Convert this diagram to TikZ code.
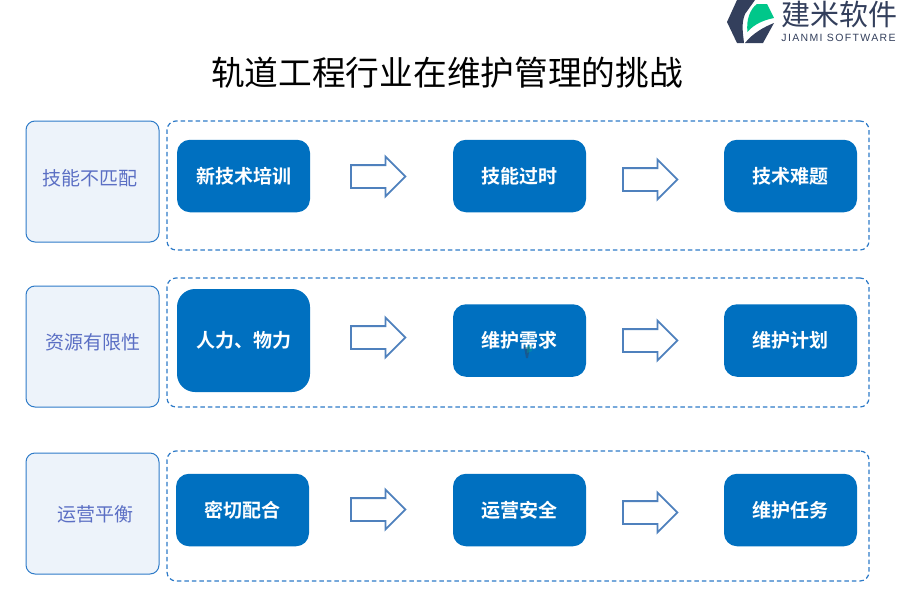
\documentclass[tikz,border=0pt]{standalone}
\usepackage{fontspec}
\usetikzlibrary{shapes.arrows}
\newfontfamily\cjk{Noto Sans CJK SC}
\newfontfamily\cjkbold{Noto Sans CJK SC Bold}
\newfontfamily\latinlogo[LetterSpace=13]{Liberation Sans}
\definecolor{deep}{HTML}{0070C0}
\definecolor{edge}{HTML}{2E7BC8}
\definecolor{pale}{HTML}{EDF3FA}
\definecolor{arrowedge}{HTML}{4F81BD}
\definecolor{labeltext}{HTML}{5B6FC4}
\definecolor{logodark}{HTML}{333F5C}
\definecolor{logogreen}{HTML}{00C78A}
\tikzset{
  x=1pt,y=-1pt,
  sidebox/.style={draw=edge,line width=1pt,fill=pale,rounded corners=9pt,minimum width=133pt,minimum height=121pt,inner sep=0pt,outer sep=0pt},
  sidetext/.style={font=\cjk\fontsize{19}{19}\selectfont,text=labeltext,inner sep=0pt},
  groupbox/.style={draw=edge,line width=1.2pt,dash pattern=on 4.5pt off 3pt,rounded corners=9pt,minimum width=702pt,inner sep=0pt,outer sep=0pt},
  bluebox/.style={fill=deep,rounded corners=13pt,minimum width=133pt,minimum height=72.5pt,inner sep=0pt,text=white,font=\cjkbold\fontsize{19}{19}\selectfont},
  blockarrow/.style={single arrow,draw=arrowedge,line width=1.8pt,fill=white,inner xsep=0pt,inner ysep=10.5pt,outer sep=0pt,minimum height=54.5pt,single arrow head extend=8.5pt,text width=0pt,text height=0pt,text depth=0pt},
}
\begin{document}
\begin{tikzpicture}
\useasboundingbox (0,0) rectangle (900,600);
% title
\node[inner sep=0pt,font=\cjk\fontsize{33.7}{34}\selectfont,text=black] (title) at (447,73) {轨道工程行业在维护管理的挑战};
% logo
\fill[logodark] (737,0) -- (755,0) -- (745,14) .. controls (741,24) and (743,33) .. (744,43) -- (737,43) -- (727,22) -- cycle;
\fill[logodark] (745,43) -- (763,43) -- (774,23) .. controls (764,27) and (753,33) .. (745,43) -- cycle;
\fill[logogreen] (747.5,32) .. controls (746,20) and (750,9) .. (757,4) -- (767,4) -- (774,18) .. controls (764,20) and (754,24) .. (747.5,32) -- cycle;
\node[inner sep=0pt,font=\cjk\fontsize{29}{29}\selectfont,text=logodark] (brand) at (839.5,14) {建米软件};
\node[inner sep=0pt,font=\latinlogo\fontsize{10.5}{11}\selectfont,text=logodark] (brandlatin) at (838.5,38) {JIANMI SOFTWARE};
% left boxes
\node[sidebox] (s1) at (92.5,181.5) {};
\node[sidebox] (s2) at (92.5,346.5) {};
\node[sidebox] (s3) at (92.5,513.5) {};
\node[sidetext] (s1t) at (89.5,178) {技能不匹配};
\node[sidetext] (s2t) at (93,342) {资源有限性};
\node[sidetext] (s3t) at (95,514) {运营平衡};
% groups
\node[groupbox,minimum height=129pt] (g1) at (518,185.5) {};
\node[groupbox,minimum height=129pt] (g2) at (518,342.5) {};
\node[groupbox,minimum height=130pt] (g3) at (518,516) {};
% row 1
\node[bluebox] (a1) at (243.5,176) {新技术培训};
\node[bluebox] (a2) at (519.5,176) {技能过时};
\node[bluebox] (a3) at (790.5,176) {技术难题};
\node[blockarrow] (a12) at (372.5,176.5) {};
\node[blockarrow] (a23) at (644.5,179.5) {};
% row 2
\node[bluebox,minimum height=103pt,rounded corners=18pt] (b1) at (243.5,340.5) {人力、物力};
\node[bluebox] (b2) at (519.5,340.5) {维护需求};
\node[bluebox] (b3) at (790.5,340.5) {维护计划};
\node[blockarrow] (b12) at (372.5,337.5) {};
\node[blockarrow] (b23) at (644.5,340.5) {};
% row 3
\node[bluebox] (c1) at (242.5,510) {密切配合};
\node[bluebox] (c2) at (519.5,510) {运营安全};
\node[bluebox] (c3) at (790.5,510) {维护任务};
\node[blockarrow] (c12) at (372.5,509.5) {};
\node[blockarrow] (c23) at (644.5,512.5) {};
% watermark mark only
\fill[logodark,opacity=.45] (524,347) -- (530,347) -- (528,358) -- (526,358) -- cycle;
\fill[logogreen,opacity=.25] (527,346) -- (532,346) -- (532,351) -- (527,353) -- cycle;
\end{tikzpicture}
\end{document}
